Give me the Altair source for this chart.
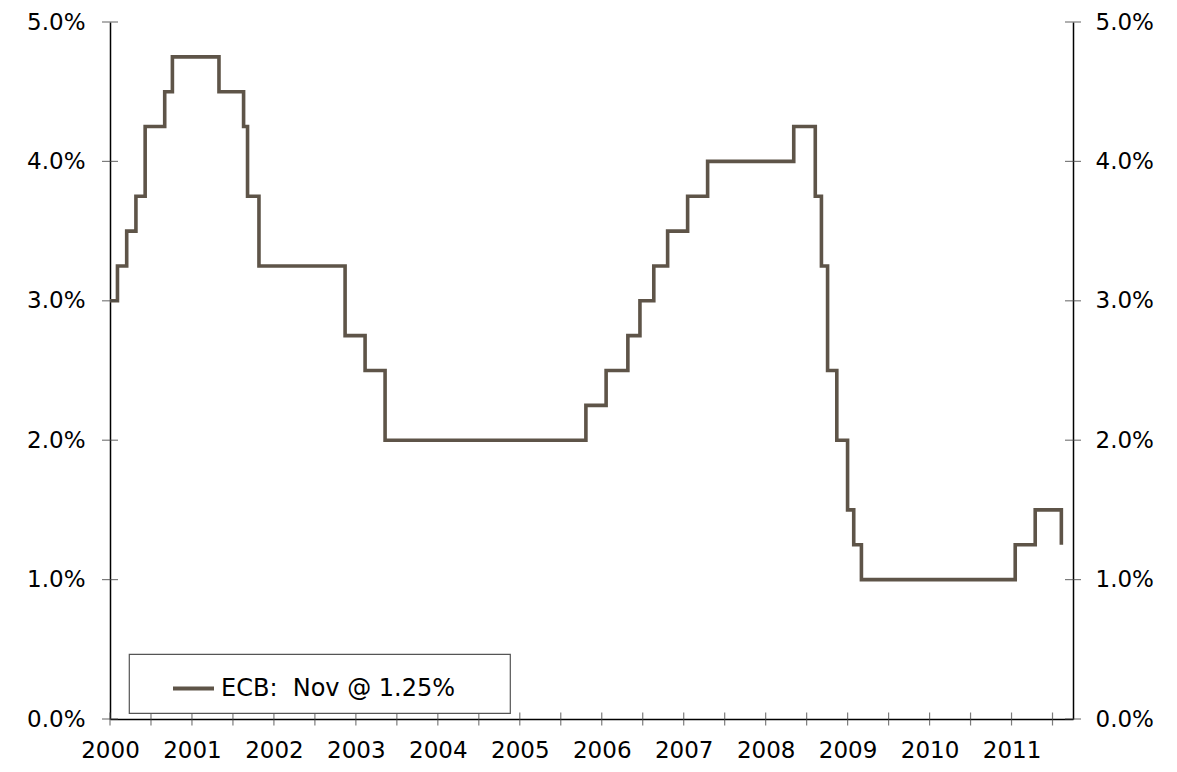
import altair as alt
import pandas as pd

# ECB main refinancing rate: change dates and new rate (%)
change_dates = ["2000-01-01", "2000-02-04", "2000-03-17", "2000-04-28", "2000-06-09",
                "2000-09-06", "2000-10-11", "2001-05-11", "2001-08-31", "2001-09-18",
                "2001-11-09", "2002-12-06", "2003-03-07", "2003-06-06", "2005-12-06",
                "2006-03-08", "2006-06-15", "2006-08-09", "2006-10-11", "2006-12-13",
                "2007-03-14", "2007-06-13", "2008-07-09", "2008-10-15", "2008-11-12",
                "2008-12-10", "2009-01-21", "2009-03-11", "2009-04-08", "2009-05-13",
                "2011-04-13", "2011-07-13", "2011-11-09"]
rates = [3.0, 3.25, 3.5, 3.75, 4.25,
         4.5, 4.75, 4.5, 4.25, 3.75,
         3.25, 2.75, 2.5, 2.0, 2.25,
         2.5, 2.75, 3.0, 3.25, 3.5,
         3.75, 4.0, 4.25, 3.75, 3.25,
         2.5, 2.0, 1.5, 1.25, 1.0,
         1.25, 1.5, 1.25]
series_name = "ECB:\u00a0 Nov @ 1.25%"

y_ticks = [0, 1, 2, 3, 4, 5]
# half-year tick marks on the category-style x axis, labels every other tick
x_tick_labels = []
for yr in range(2000, 2012):
    x_tick_labels += [str(yr), ""]
x_ticks = list(range(len(x_tick_labels)))

FONT = "DejaVu Sans"
LINE_COLOR = "#5e5448"
TICK_COLOR = "#444"

df = pd.DataFrame({"date": pd.to_datetime(change_dates), "rate": rates,
                   "series": [series_name] * len(rates)})
ydf = pd.DataFrame({"v": y_ticks})
xdf = pd.DataFrame({"i": x_ticks})

y_scale = alt.Scale(domain=[0, 5], nice=False, zero=False)
x_scale_cat = alt.Scale(domain=[0, len(x_ticks) - 0.5], nice=False, zero=False)
y_label_expr = "format(datum.value, '.1f') + '%'"
x_label_expr = "[" + ",".join("'" + s + "'" for s in x_tick_labels) + "][datum.value]"
legend_pad = "\u00a0\u2800\u2800"

line = alt.Chart(df).transform_calculate(
    legend_label="datum.series + '" + legend_pad + "'"
).mark_line(interpolate="step-after", strokeWidth=3.6).encode(
    x=alt.X("date:T", scale=alt.Scale(domain=["2000-01-01", "2012-01-01"], nice=False), axis=None),
    y=alt.Y("rate:Q", scale=y_scale,
            axis=alt.Axis(orient="left", values=y_ticks, labelExpr=y_label_expr, title=None,
                          grid=False, ticks=False, tickSize=0, labelPadding=25,
                          labelFontSize=23, labelFont=FONT, labelColor="black",
                          domainColor="black", domainWidth=1.5)),
    color=alt.Color("legend_label:N", scale=alt.Scale(range=[LINE_COLOR]),
                    legend=alt.Legend(orient="none", legendX=19, legendY=632, title=None,
                                      strokeColor="#555", fillColor="white",
                                      padding=12, symbolType="stroke", symbolSize=1681,
                                      symbolStrokeWidth=4, symbolOffset=30, labelOffset=5,
                                      labelFont=FONT, labelFontSize=24, labelColor="black",
                                      labelLimit=700)),
)

# crossing tick marks on the left value axis
y_left_ticks = alt.Chart(ydf).mark_tick(orient="horizontal", size=16, thickness=1.2,
                                        color=TICK_COLOR).encode(
    y=alt.Y("v:Q", scale=y_scale, axis=None),
    x=alt.value(0),
)

# right value axis with crossing tick marks
y_right = alt.Chart(ydf).mark_tick(orient="horizontal", size=16, thickness=1.2,
                                   color=TICK_COLOR).encode(
    y=alt.Y("v:Q", scale=y_scale,
            axis=alt.Axis(orient="right", values=y_ticks, labelExpr=y_label_expr, title=None,
                          grid=False, ticks=False, tickSize=0, labelPadding=22,
                          labelFontSize=23, labelFont=FONT, labelColor="black",
                          domainColor="black", domainWidth=1.5)),
    x=alt.value("width"),
)

# category-style time axis with crossing half-year tick marks
x_main = alt.Chart(xdf).mark_tick(orient="vertical", size=13, thickness=1.2,
                                  color=TICK_COLOR).encode(
    x=alt.X("i:Q", scale=x_scale_cat,
            axis=alt.Axis(orient="bottom", values=x_ticks, labelExpr=x_label_expr, title=None,
                          grid=False, ticks=False, tickSize=0, labelPadding=20,
                          labelFontSize=23, labelFont=FONT, labelColor="black",
                          labelFlush=False, labelOverlap=False, labelBound=False,
                          domainColor="black", domainWidth=1.5)),
    y=alt.value("height"),
)

chart = alt.layer(line, y_left_ticks, y_right, x_main).resolve_scale(
    x="independent"
).resolve_axis(
    x="independent", y="independent"
).properties(
    width=963, height=697,
    padding={"left": 102, "top": 14, "right": 96, "bottom": 45},
    autosize=alt.AutoSizeParams(type="none"),
    background="white",
).configure_view(stroke=None).configure_legend(strokeWidth=1.2)

chart.save("out.html", embed_options={"renderer": "svg", "actions": False})
